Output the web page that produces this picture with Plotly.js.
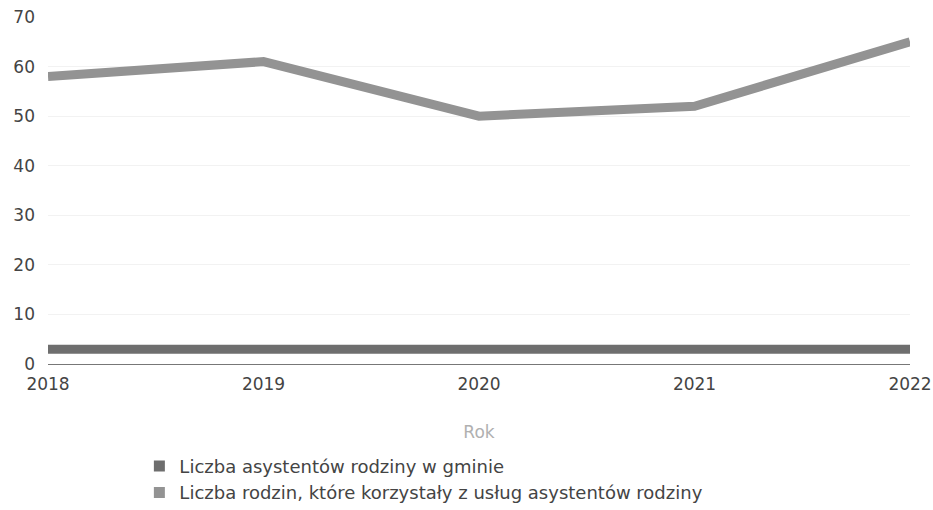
<!DOCTYPE html>
<html>
<head>
<meta charset="utf-8">
<script src="https://cdn.plot.ly/plotly-3.0.1.min.js"></script>
<style>html,body{margin:0;padding:0;background:#fff;}#chart{width:933px;height:510px;}</style>
</head>
<body>
<div id="chart"></div>
<script>
var years = [2018, 2019, 2020, 2021, 2022];
var assistants = [3, 3, 3, 3, 3];
var families = [58, 61, 50, 52, 65];
var seriesNames = ["Liczba asystentów rodziny w gminie", "Liczba rodzin, które korzystały z usług asystentów rodziny"];
var seriesColors = ["#6e6e6e", "#939393"];
var yTicks = [0, 10, 20, 30, 40, 50, 60, 70];
var xTitle = "Rok";

var seriesData = [assistants, families];
var traces = [];
seriesData.forEach(function (vals, i) {
  traces.push({
    type: "scatter", mode: "lines", x: years, y: vals, name: seriesNames[i],
    line: {color: seriesColors[i], width: 9}, showlegend: false, legendgroup: "g" + i
  });
});
seriesData.forEach(function (vals, i) {
  traces.push({
    type: "scatter", mode: "markers", x: [null], y: [null], name: seriesNames[i],
    marker: {symbol: "square", size: 11, color: seriesColors[i]}, legendgroup: "g" + i
  });
});

var layout = {
  width: 933, height: 510,
  margin: {l: 48, r: 23, t: 17, b: 146},
  paper_bgcolor: "#fff", plot_bgcolor: "#fff",
  font: {family: "DejaVu Sans, sans-serif", color: "#444", size: 17},
  xaxis: {
    range: [2018, 2022], tickvals: years, ticktext: years.map(String), automargin: false,
    showgrid: false, zeroline: false, showline: true, linecolor: "#777", linewidth: 1,
    ticks: "", tickfont: {size: 17, color: "#444"}, ticklabelstandoff: 5,
    title: {text: xTitle, font: {size: 17, color: "#b0b0b0"}, standoff: 32}
  },
  yaxis: {
    range: [0, 70], tickvals: yTicks, showgrid: true, gridcolor: "#f2f2f2", zeroline: false,
    automargin: false, showline: false, ticks: "", tickfont: {size: 17, color: "#444"}, ticklabelstandoff: 12
  },
  legend: {
    x: 0.106, xanchor: "left", xref: "paper", y: 0.122, yref: "container", yanchor: "top", orientation: "v",
    font: {size: 18, color: "#444"}, itemwidth: 30, tracegroupgap: 0, bgcolor: "rgba(0,0,0,0)"
  },
  showlegend: true
};
Plotly.newPlot("chart", traces, layout, {displayModeBar: false, staticPlot: true});
</script>
</body>
</html>
